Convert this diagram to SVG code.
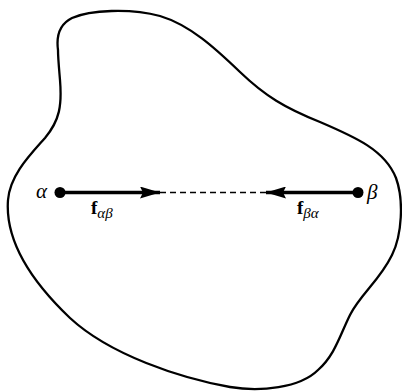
<svg xmlns="http://www.w3.org/2000/svg" width="402" height="392" viewBox="0 0 402 392">
<style>
.blob{fill:none;stroke:#000;stroke-width:2.3;stroke-linejoin:round}
.force{stroke:#000;stroke-width:3.5;fill:none}
.dash{stroke:#000;stroke-width:1.6;stroke-dasharray:6 4;fill:none}
.lbl{font-family:"Liberation Serif","DejaVu Serif",serif;font-style:italic;font-size:21px;fill:#000}
.f{font-family:"Liberation Serif","DejaVu Serif",serif;font-weight:bold;font-size:19px;fill:#000}
.sub{font-family:"Liberation Serif","DejaVu Serif",serif;font-style:italic;font-size:15px;fill:#000}
</style>
<defs>
<marker id="ah" viewBox="0 0 20 12" refX="20" refY="6" markerWidth="20" markerHeight="12" markerUnits="userSpaceOnUse" orient="auto">
<path d="M0,0 L20,6 L0,12 L3,6 Z" fill="#000"/>
</marker>
</defs>
<g id="body">
<path class="blob" d="M58,50 C56,35 60,24 72,18 C90,10 130,8 160,16 C190,25 215,48 240,72 C265,96 285,108 320,122 C355,137 385,150 396,178 C404,200 402,235 392,255 C380,280 360,295 350,315 C340,335 335,355 318,370 C300,388 260,392 230,387 C180,378 110,355 70,318 C30,280 5,240 8,200 C10,175 30,155 45,138 C60,120 62,105 60,80 C59,68 58,58 58,50 Z"/>
</g>
<g id="alpha">
<circle cx="60" cy="192.5" r="5.5"/>
<text class="lbl" x="36" y="198">α</text>
</g>
<g id="beta">
<circle cx="358" cy="192.5" r="5.5"/>
<text class="lbl" x="367" y="199">β</text>
</g>
<g id="connectors">
<line class="dash" x1="160" y1="192.5" x2="267" y2="192.5"/>
<line class="force" x1="60" y1="192.5" x2="160" y2="192.5" marker-end="url(#ah)"/>
<line class="force" x1="358" y1="192.5" x2="266" y2="192.5" marker-end="url(#ah)"/>
</g>
<g id="label-fab">
<text x="91" y="214"><tspan class="f">f</tspan><tspan class="sub" dy="4">αβ</tspan></text>
</g>
<g id="label-fba">
<text x="297" y="214"><tspan class="f">f</tspan><tspan class="sub" dy="4">βα</tspan></text>
</g>
</svg>
